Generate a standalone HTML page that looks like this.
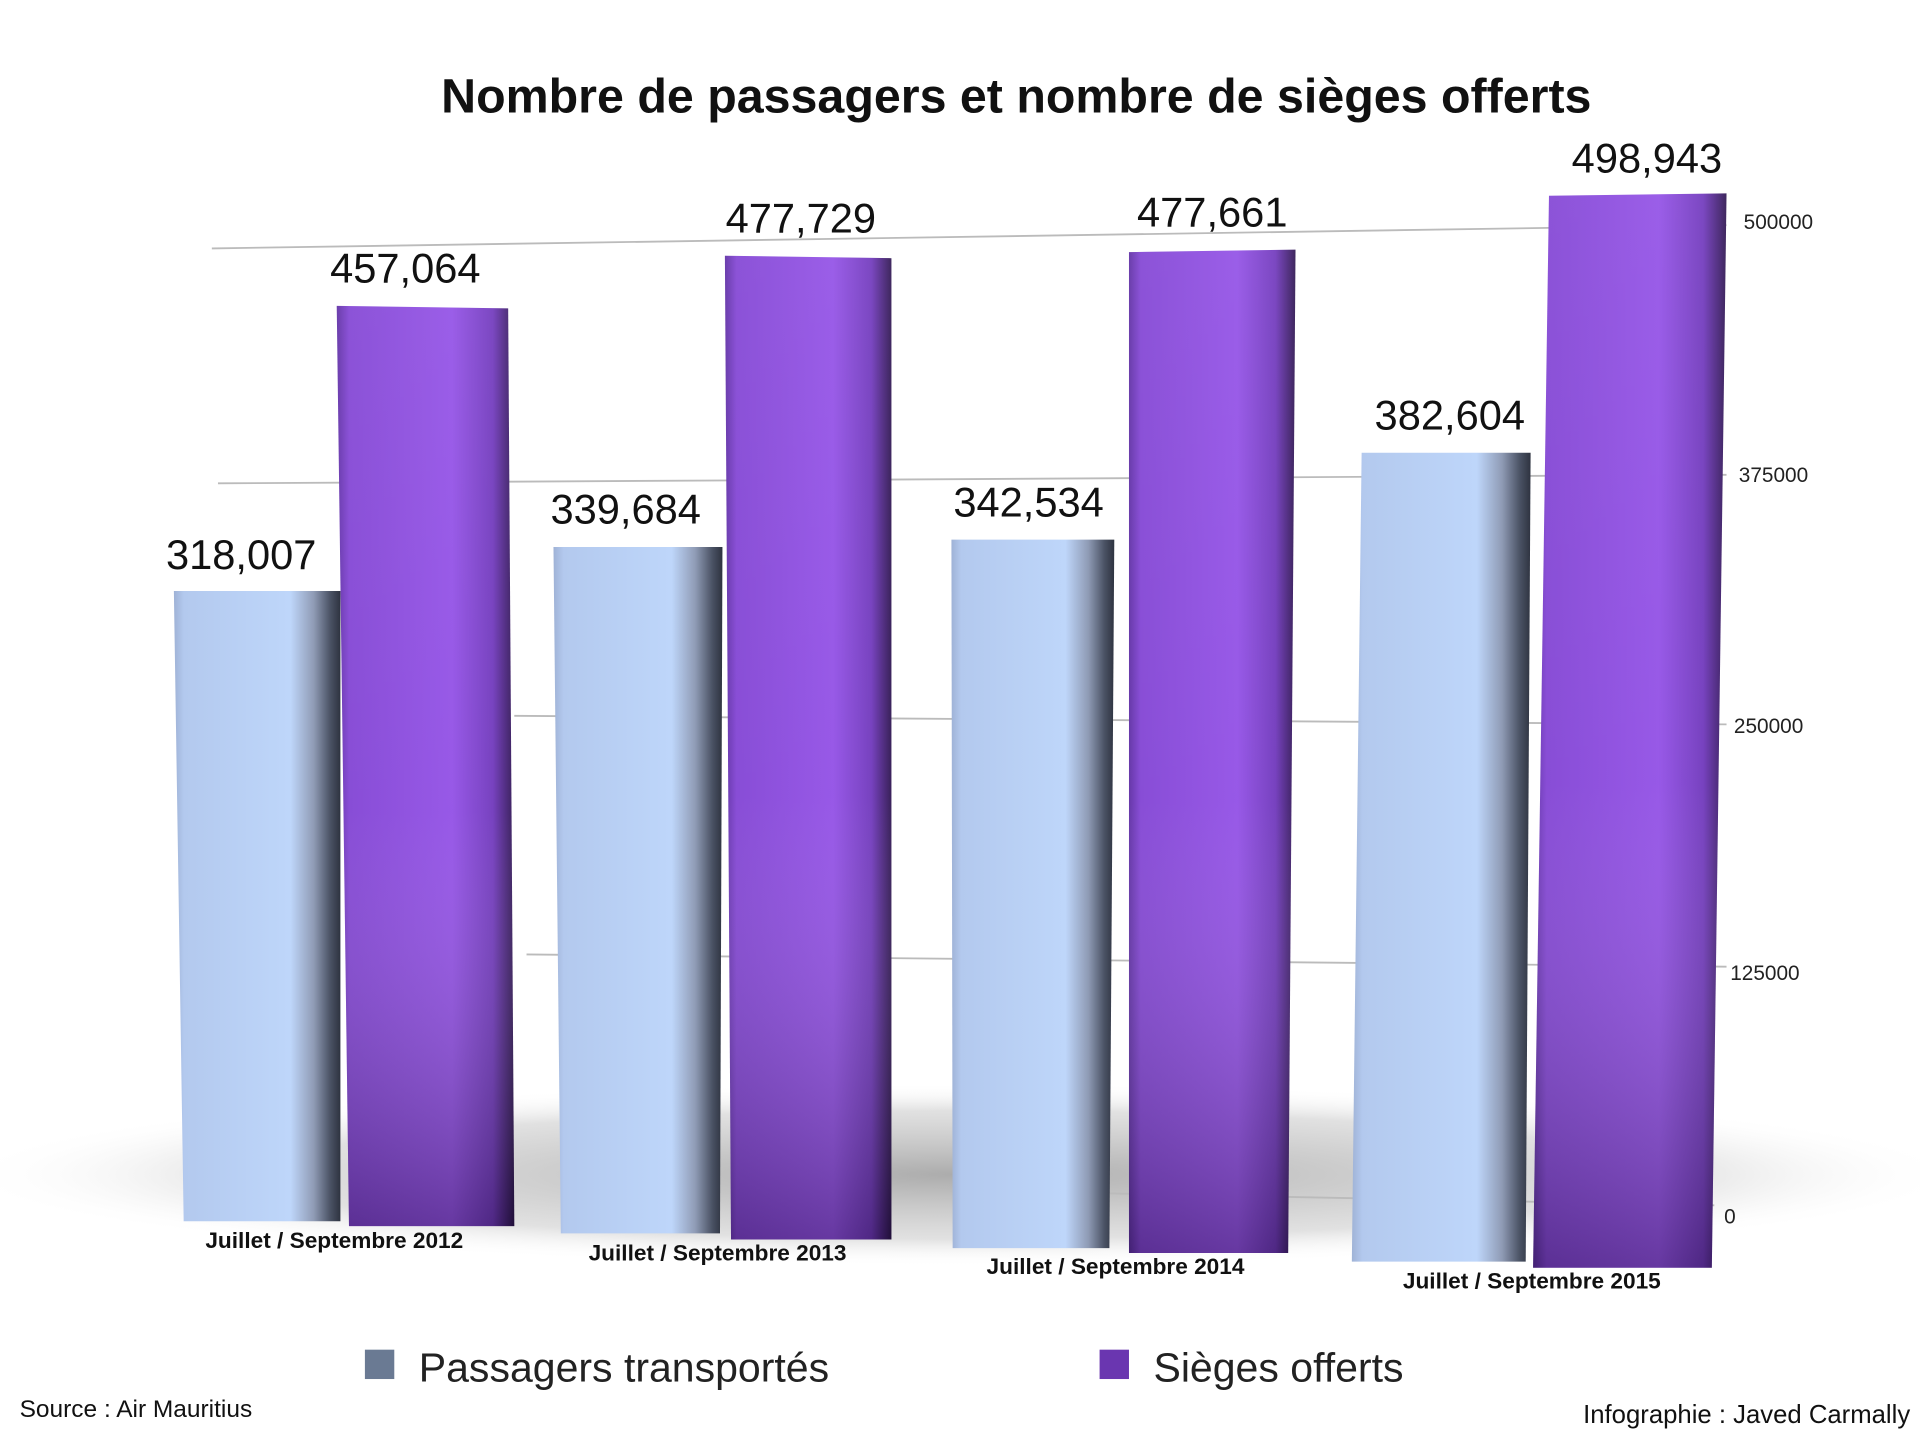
<!DOCTYPE html>
<html><head><meta charset="utf-8"><style>
html,body{margin:0;padding:0;background:#fff;}
svg{display:block;}
text{font-family:"Liberation Sans",Arial,sans-serif;}
</style></head><body>
<svg width="1920" height="1439" viewBox="0 0 1568 1176" preserveAspectRatio="none" xmlns="http://www.w3.org/2000/svg">
<defs>
<linearGradient id="lb" x1="0" x2="1" y1="0" y2="0">
<stop offset="0" stop-color="#9fb2d6"/><stop offset="0.06" stop-color="#b3c9ee"/><stop offset="0.7" stop-color="#bed6fa"/><stop offset="0.84" stop-color="#8f9bb5"/><stop offset="0.94" stop-color="#4a5264"/><stop offset="1" stop-color="#2e3340"/>
</linearGradient>
<linearGradient id="pb" x1="0" x2="1" y1="0" y2="0">
<stop offset="0" stop-color="#5e2ea4"/><stop offset="0.07" stop-color="#8244d4"/><stop offset="0.65" stop-color="#9250e6"/><stop offset="0.88" stop-color="#7038bc"/><stop offset="1" stop-color="#2e1550"/>
</linearGradient>
<linearGradient id="pv" x1="0" x2="0" y1="0" y2="1">
<stop offset="0" stop-color="#fff" stop-opacity="0.08"/><stop offset="0.55" stop-color="#fff" stop-opacity="0.05"/><stop offset="1" stop-color="#000" stop-opacity="0.3"/>
</linearGradient>
<radialGradient id="sh" cx="0.5" cy="0.5" r="0.5">
<stop offset="0" stop-color="#888" stop-opacity="0.7"/><stop offset="0.7" stop-color="#aaa" stop-opacity="0.35"/><stop offset="1" stop-color="#fff" stop-opacity="0"/>
</radialGradient>
</defs>
<rect width="1568" height="1176" fill="#fff"/>
<ellipse cx="784" cy="960" rx="820" ry="75" fill="url(#sh)"/>
<text x="830" y="92" text-anchor="middle" font-size="39.5" font-weight="bold" fill="#111">Nombre de passagers et nombre de sièges offerts</text>
<g stroke="#bbb" stroke-width="1.5">
<line x1="173" y1="203" x2="1410" y2="184"/>
<line x1="178" y1="395" x2="1410" y2="388"/>
<line x1="420" y1="585" x2="1410" y2="592"/>
<line x1="430" y1="780" x2="1410" y2="790"/>
<line x1="740" y1="972" x2="1400" y2="985"/>
</g>
<g font-size="17" fill="#222">
<text x="1424" y="187">500000</text><text x="1420" y="394">375000</text><text x="1416" y="599">250000</text><text x="1413" y="801">125000</text><text x="1408" y="1000">0</text>
</g>
<g>
<polygon points="142,483 278,483 278,998 150,998" fill="url(#lb)"/>
<polygon points="275,250 415,252 420,1002 285,1002" fill="url(#pb)"/><polygon points="275,250 415,252 420,1002 285,1002" fill="url(#pv)"/>
<polygon points="452,447 590,447 588,1008 458,1008" fill="url(#lb)"/>
<polygon points="592,209 728,211 728,1013 597,1013" fill="url(#pb)"/><polygon points="592,209 728,211 728,1013 597,1013" fill="url(#pv)"/>
<polygon points="777,441 910,441 906,1020 778,1020" fill="url(#lb)"/>
<polygon points="922,206 1058,204 1052,1024 922,1024" fill="url(#pb)"/><polygon points="922,206 1058,204 1052,1024 922,1024" fill="url(#pv)"/>
<polygon points="1112,370 1250,370 1246,1031 1104,1031" fill="url(#lb)"/>
<polygon points="1265,160 1410,158 1398,1036 1252,1036" fill="url(#pb)"/><polygon points="1265,160 1410,158 1398,1036 1252,1036" fill="url(#pv)"/>
</g>
<g font-size="34" fill="#111" text-anchor="middle">
<text x="197" y="465">318,007</text><text x="331" y="231">457,064</text>
<text x="511" y="428">339,684</text><text x="654" y="190">477,729</text>
<text x="840" y="422">342,534</text><text x="990" y="185">477,661</text>
<text x="1184" y="351">382,604</text><text x="1345" y="141">498,943</text>
</g>
<g font-size="18.5" font-weight="bold" fill="#111" text-anchor="middle">
<text x="273" y="1020">Juillet / Septembre 2012</text>
<text x="586" y="1030">Juillet / Septembre 2013</text>
<text x="911" y="1041">Juillet / Septembre 2014</text>
<text x="1251" y="1053">Juillet / Septembre 2015</text>
</g>
<rect x="298" y="1103" width="24" height="24" fill="#6a7a93"/>
<text x="342" y="1129" font-size="33.5" fill="#222">Passagers transportés</text>
<rect x="898" y="1103" width="24" height="24" fill="#6a36b0"/>
<text x="942" y="1129" font-size="33.5" fill="#222">Sièges offerts</text>
<text x="16" y="1158" font-size="20" fill="#111">Source : Air Mauritius</text>
<text x="1560" y="1163" font-size="21" fill="#111" text-anchor="end">Infographie : Javed Carmally</text>
</svg>
</body></html>
